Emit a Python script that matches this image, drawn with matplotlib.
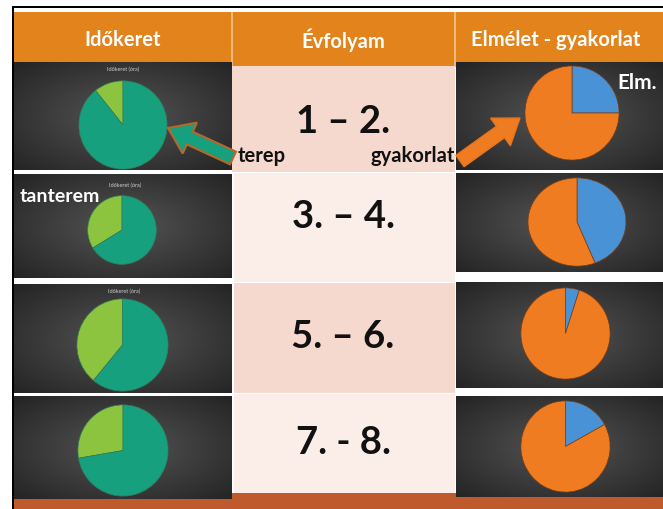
import numpy as np
import matplotlib.pyplot as plt
from matplotlib.patches import Rectangle, FancyArrow

W, H = 663, 509

# ---- data ----
headers = ["Időkeret", "Évfolyam", "Elmélet - gyakorlat"]
grades = ["1 – 2.", "3. – 4.", "5. – 6.", "7. - 8."]
pie_title = "Időkeret (óra)"
tanterem = [10.7, 33.8, 39.0, 27.7]
terep = [89.3, 66.2, 61.0, 72.3]
elmelet = [25.0, 44.0, 5.0, 17.0]
gyakorlat = [75.0, 56.0, 95.0, 83.0]

# ---- colours ----
ORANGE_HDR = "#E3831B"
PEACH = "#F6D9CE"
LIGHT = "#FBEEE9"
BOTTOM = "#BF5A2C"
TEAL = "#17A07D"
LGREEN = "#8DC43F"
PORANGE = "#F07C22"
PBLUE = "#4A92D6"

FONT = ["Lato", "DejaVu Sans"]

# ---- layout (pixel boxes x0, y0, x1, y1) ----
left_panels = [(14, 62, 232, 170), (14, 174, 232, 278), (14, 284, 232, 393), (14, 396, 232, 499)]
right_panels = [(456, 62, 663, 170), (456, 173, 663, 272), (456, 282, 663, 388), (456, 396, 663, 497)]
mid_cells = [(232, 66, 455, 172), (234, 172.5, 455, 282), (234, 283, 455, 393), (234, 394, 455, 493)]
left_pies = [(78, 80, 168, 170), (87, 195, 157, 265), (76, 298, 169, 392), (77, 404, 169, 497)]
right_pies = [(524, 65, 620, 161), (527, 177, 627, 267), (520, 287, 611, 380), (520, 400, 611, 493)]
grade_y = [122, 217, 337, 443]
title_pos = [(123, 69), (125, 185), (124, 291), (124, 398)]

fig = plt.figure(figsize=(W / 100, H / 100), dpi=100)
fig.patch.set_facecolor("white")
bg = fig.add_axes([0, 0, 1, 1])
bg.set_xlim(0, W)
bg.set_ylim(H, 0)
bg.axis("off")

# frame lines
bg.add_patch(Rectangle((12, 5.5), W - 12, 2.2, color="black", lw=0))
bg.add_patch(Rectangle((11.5, 5.5), 2.2, H, color="black", lw=0))

# header
bg.add_patch(Rectangle((14, 11.5), W - 14, 55, color=ORANGE_HDR, lw=0))
for xs in (232, 455):
    bg.add_patch(Rectangle((xs - 0.6, 11.5), 1.2, 55, color="#F3B77A", lw=0))
hdr_x = [123, 343, 556]
for x, t in zip(hdr_x, headers):
    bg.text(x, 40, t, ha="center", va="center", color="white", fontsize=14.5,
            fontweight="bold", family=FONT)

# bottom bar
bg.add_patch(Rectangle((14, 493), W - 14, 20, color=BOTTOM, lw=0))

# middle cells
for i, (x0, y0, x1, y1) in enumerate(mid_cells):
    bg.add_patch(Rectangle((x0, y0), x1 - x0, y1 - y0, color=PEACH if i % 2 == 0 else LIGHT, lw=0))
    bg.text(343, grade_y[i], grades[i], ha="center", va="center", color="#111111",
            fontsize=27.5, fontweight="bold", family=FONT)


def panel(box):
    x0, y0, x1, y1 = box
    w, h = int(x1 - x0), int(y1 - y0)
    yy, xx = np.mgrid[0:h, 0:w]
    d = np.sqrt(((xx - w / 2) / (w / 2)) ** 2 + ((yy - h / 2) / (h / 2)) ** 2) / np.sqrt(2)
    v = 0.33 - 0.19 * d
    img = np.dstack([v, v, v])
    bg.imshow(img, extent=(x0, x1, y1, y0), interpolation="bilinear", zorder=2, aspect="auto")


for b in left_panels + right_panels:
    panel(b)

bg.set_xlim(0, W)
bg.set_ylim(H, 0)


def px_axes(box):
    x0, y0, x1, y1 = box
    ax = fig.add_axes([x0 / W, 1 - y1 / H, (x1 - x0) / W, (y1 - y0) / H])
    return ax


for i in range(4):
    ax = px_axes(left_pies[i])
    ax.pie([tanterem[i], terep[i]], colors=[LGREEN, TEAL], startangle=90, counterclock=True,
           wedgeprops=dict(edgecolor="#2f7f5a", linewidth=0.5))
    ax.set_aspect("auto")
    ax.set_xlim(-1.02, 1.02)
    ax.set_ylim(-1.02, 1.02)
    ax.axis("off")

    ax = px_axes(right_pies[i])
    ax.pie([elmelet[i], gyakorlat[i]], colors=[PBLUE, PORANGE], startangle=90, counterclock=False,
           wedgeprops=dict(edgecolor="#7a3d12", linewidth=0.5))
    ax.set_aspect("auto")
    ax.set_xlim(-1.02, 1.02)
    ax.set_ylim(-1.02, 1.02)
    ax.axis("off")

ov = fig.add_axes([0, 0, 1, 1])
ov.set_xlim(0, W)
ov.set_ylim(H, 0)
ov.axis("off")
ov.patch.set_alpha(0)

for i, (x, y) in enumerate(title_pos[:3]):
    ov.text(x, y, pie_title, ha="center", va="center", color="#cfcfcf", fontsize=4, family=FONT)

# arrows
ov.add_patch(FancyArrow(233, 158, 168 - 233, 128 - 158, width=14, head_width=34, head_length=24,
                        length_includes_head=True, facecolor=TEAL, edgecolor="#B8662A", lw=1.5))
ov.add_patch(FancyArrow(460, 161, 520 - 460, 118 - 161, width=14, head_width=34, head_length=24,
                        length_includes_head=True, facecolor=PORANGE, edgecolor="#E8741C", lw=1))

ov.text(238, 156, "terep", ha="left", va="center", color="#111111", fontsize=14.5,
        fontweight="bold", family=FONT)
ov.text(455, 156, "gyakorlat", ha="right", va="center", color="#111111", fontsize=14.5,
        fontweight="bold", family=FONT)
ov.text(20, 197, "tanterem", ha="left", va="center", color="white", fontsize=14,
        fontweight="bold", family=FONT)
ov.text(637, 83, "Elm.", ha="center", va="center", color="white", fontsize=15,
        fontweight="bold", family=FONT)

fig.savefig("out.png", dpi=100)
